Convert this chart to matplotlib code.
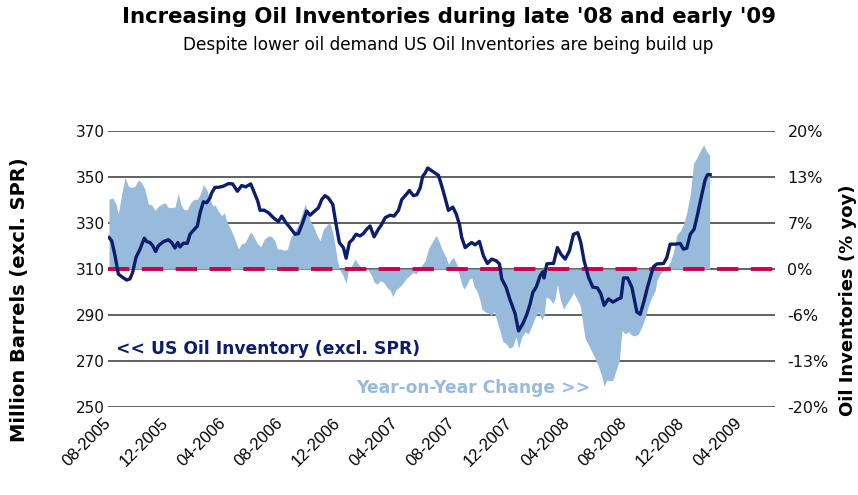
import matplotlib
matplotlib.use("Agg")
import matplotlib.pyplot as plt
from matplotlib import font_manager
from matplotlib.transforms import ScaledTranslation

# ---------------- data (months since Aug-2005) ----------------
inv_months = [0.07, 0.26, 0.49, 0.72, 0.95, 1.30, 1.53, 1.72, 1.95, 2.23, 2.53, 2.70, 2.93, 3.12, 3.32, 3.51,
              3.86, 4.21, 4.44, 4.67, 4.86, 5.02, 5.25, 5.53, 5.72, 5.95, 6.23, 6.42, 6.65, 6.88, 7.11, 7.23,
              7.46, 7.69, 8.04, 8.39, 8.69, 9.02, 9.32, 9.60, 9.95, 10.25, 10.44, 10.60, 10.88, 11.18, 11.53,
              11.88, 12.11, 12.41, 12.69, 13.04, 13.27, 13.57, 13.85, 14.09, 14.32, 14.67, 14.90, 15.13, 15.36,
              15.67, 15.90, 16.13, 16.41, 16.60, 16.83, 17.06, 17.29, 17.57, 17.80, 18.04, 18.27, 18.55, 18.85,
              19.08, 19.32, 19.67, 19.94, 20.25, 20.48, 20.83, 21.01, 21.29, 21.53, 21.76, 21.94, 22.11, 22.29,
              22.57, 22.80, 23.04, 23.27, 23.50, 23.73, 24.04, 24.27, 24.50, 24.66, 24.90, 25.13, 25.36, 25.59,
              25.89, 26.17, 26.45, 26.75, 27.06, 27.29, 27.45, 27.75, 28.03, 28.38, 28.62, 28.92, 29.20, 29.43,
              29.62, 29.85, 30.13, 30.31, 30.40, 30.59, 30.82, 31.06, 31.33, 31.57, 31.87, 32.17, 32.45, 32.75,
              32.96, 33.19, 33.50, 33.80, 34.12, 34.36, 34.59, 34.89, 35.20, 35.52, 35.77, 35.94, 36.22, 36.52,
              36.87, 37.10, 37.38, 37.61, 37.91, 38.03, 38.26, 38.73, 38.96, 39.19, 39.54, 39.89, 40.12, 40.35,
              40.59, 40.86, 41.10, 41.40, 41.63, 41.80, 41.98]
inventory = [323.7, 322.2, 315.8, 307.8, 306.7, 305.2, 305.7, 308.6, 315.0, 318.6, 323.4, 321.9, 321.5, 320.1,
             317.6, 320.1, 321.9, 322.7, 321.5, 319.1, 321.5, 319.6, 321.2, 321.2, 325.1, 326.8, 328.7, 334.5,
             339.2, 338.8, 340.9, 343.1, 345.5, 345.5, 346.0, 347.1, 347.0, 343.8, 346.3, 345.7, 347.0, 342.4,
             339.5, 335.5, 335.6, 334.5, 332.3, 330.6, 333.0, 330.1, 328.0, 325.1, 325.4, 330.1, 335.2, 333.4,
             334.7, 336.6, 340.2, 341.9, 340.9, 338.1, 329.4, 321.5, 319.3, 314.7, 321.5, 322.9, 325.1, 324.4,
             325.4, 327.3, 328.7, 324.0, 327.3, 329.4, 332.3, 333.4, 333.0, 335.5, 340.2, 342.7, 344.1, 341.9,
             342.3, 345.2, 350.3, 351.7, 353.9, 352.7, 351.7, 350.7, 346.0, 340.9, 335.5, 336.9, 334.0, 329.4,
             323.7, 319.3, 320.5, 321.5, 320.5, 322.0, 315.8, 312.4, 314.3, 313.6, 312.2, 305.7, 302.1, 296.6,
             290.6, 283.1, 286.2, 290.3, 294.9, 299.9, 302.1, 307.1, 308.8, 306.1, 312.2, 312.4, 312.4, 319.3,
             316.5, 314.3, 317.9, 325.1, 325.8, 321.5, 313.6, 306.4, 302.1, 301.8, 299.2, 294.2, 297.0, 295.6,
             296.8, 297.5, 306.1, 306.1, 302.1, 291.3, 290.3, 296.3, 302.1, 308.6, 311.0, 312.2, 312.4, 315.0,
             320.8, 320.8, 321.1, 318.6, 319.1, 325.1, 327.3, 333.7, 342.4, 348.8, 351.0, 351.0]

yoy_months = [0.07, 0.33, 0.56, 0.72, 0.95, 1.19, 1.42, 1.65, 1.88, 2.12, 2.35, 2.58, 2.81, 3.05, 3.28, 3.51,
              3.74, 3.97, 4.21, 4.44, 4.67, 4.90, 5.07, 5.30, 5.53, 5.76, 6.00, 6.23, 6.42, 6.65, 6.88, 7.16,
              7.35, 7.46, 7.69, 7.93, 8.09, 8.32, 8.55, 8.79, 9.09, 9.32, 9.55, 9.79, 9.95, 10.18, 10.41, 10.65,
              10.88, 11.18, 11.41, 11.65, 11.81, 12.04, 12.27, 12.51, 12.74, 12.97, 13.20, 13.51, 13.74, 13.90,
              14.09, 14.32, 14.55, 14.78, 15.02, 15.13, 15.30, 15.48, 15.67, 15.83, 15.99, 16.18, 16.36, 16.60,
              16.76, 16.99, 17.22, 17.46, 17.69, 17.92, 18.15, 18.39, 18.55, 18.78, 18.97, 19.20, 19.43, 19.67,
              19.85, 20.08, 20.32, 20.55, 20.78, 21.01, 21.25, 21.48, 21.71, 21.87, 22.11, 22.34, 22.57, 22.80,
              22.92, 23.11, 23.34, 23.57, 23.73, 23.90, 24.08, 24.32, 24.50, 24.66, 24.83, 25.01, 25.20, 25.36,
              25.52, 25.71, 25.94, 26.06, 26.29, 26.52, 26.75, 26.92, 27.10, 27.34, 27.52, 27.75, 27.99, 28.22,
              28.45, 28.62, 28.85, 29.08, 29.31, 29.55, 29.78, 30.01, 30.24, 30.40, 30.54, 30.78, 31.01, 31.17,
              31.33, 31.52, 31.75, 31.99, 32.22, 32.45, 32.68, 32.92, 33.10, 33.26, 33.50, 33.73, 33.96, 34.19,
              34.43, 34.59, 34.78, 35.01, 35.20, 35.43, 35.66, 35.82, 36.05, 36.29, 36.52, 36.75, 36.98, 37.22,
              37.45, 37.68, 37.91, 38.15, 38.26, 38.49, 38.73, 38.96, 39.19, 39.42, 39.66, 39.89, 40.12, 40.35,
              40.59, 40.82, 41.05, 41.28, 41.52, 41.75, 41.94]
yoy_pct = [10.1, 10.3, 9.4, 8.0, 10.8, 13.3, 12.0, 11.8, 12.0, 12.9, 12.5, 11.5, 9.4, 9.3, 8.5, 9.1,
           9.4, 9.6, 8.9, 8.9, 9.0, 11.0, 9.4, 8.6, 8.6, 9.6, 10.1, 10.1, 10.8, 12.2, 11.5, 9.8,
           9.1, 9.3, 8.4, 7.7, 8.2, 6.7, 5.8, 4.6, 2.9, 3.7, 3.8, 4.8, 5.4, 4.6, 3.7, 3.2,
           4.3, 4.8, 4.7, 4.0, 2.9, 2.9, 2.7, 2.9, 4.6, 5.3, 6.2, 7.9, 9.4, 8.5,
           7.0, 6.2, 5.0, 4.1, 5.8, 6.0, 6.5, 6.7, 5.3, 3.4, 1.2, -0.2, -0.8, -2.1,
           -0.2, 0.5, 1.4, 0.7, 0.2, 0.1, -0.2, -1.0, -1.9, -2.2, -1.7, -1.9, -2.6, -3.1,
           -4.0, -3.0, -2.6, -2.1, -1.4, -1.0, -0.5, -0.7, 0.0, 0.5, 1.2, 2.9, 3.8, 4.6,
           4.8, 3.8, 2.6, 1.7, 0.7, 1.3, 1.7, 0.7, -1.0, -2.2, -2.9, -2.3, -1.4, -1.3,
           -2.6, -3.1, -4.6, -5.8, -6.2, -6.4, -6.7, -6.2, -7.4, -9.1, -10.5, -10.8, -11.5, -11.2,
           -9.8, -11.5, -9.8, -9.1, -9.4, -8.2, -7.0, -6.2, -7.4, -6.7, -4.1, -4.3, -5.0, -4.3,
           -2.2, -4.3, -5.8, -5.0, -4.3, -3.4, -4.3, -5.3, -7.9, -10.1, -11.0, -12.0, -13.0, -14.1,
           -15.6, -17.0, -16.1, -16.2, -16.1, -14.6, -13.2, -8.9, -9.4, -9.1, -9.6, -9.7, -9.4, -8.4,
           -7.0, -5.3, -4.1, -3.1, -1.7, -0.7, -0.2, 0.2, 1.0, 2.4, 5.0, 5.5, 6.5, 8.2,
           10.8, 15.3, 16.1, 17.1, 18.0, 17.0, 16.5]

x_tick_months = [0, 4, 8, 12, 16, 20, 24, 28, 32, 36, 40, 44]
x_tick_labels = ["08-2005", "12-2005", "04-2006", "08-2006", "12-2006", "04-2007",
                 "08-2007", "12-2007", "04-2008", "08-2008", "12-2008", "04-2009"]
left_ticks = [250, 270, 290, 310, 330, 350, 370]
right_ticks = [-20.0, -13.333, -6.667, 0.0, 6.667, 13.333, 20.0]
right_labels = ["-20%", "-13%", "-6%", "0%", "7%", "13%", "20%"]

title = "Increasing Oil Inventories during late '08 and early '09"
subtitle = "Despite lower oil demand US Oil Inventories are being build up"

# ---------------- styling ----------------
NAVY = "#0b1d6b"
AREA = "#99bbdb"
RED = "#c8004e"
GRID = "#555555"

names = {f.name for f in font_manager.fontManager.ttflist}
narrow = "Liberation Sans Narrow" if "Liberation Sans Narrow" in names else "Liberation Sans"

fig = plt.figure(figsize=(8.58, 4.95), dpi=100)
ax2 = fig.add_axes([108 / 858, 1 - 407 / 495, (775 - 108) / 858, (407 - 131) / 495])
ax = ax2.twinx()
ax.set_zorder(ax2.get_zorder() + 1)
ax.patch.set_visible(False)

# area on secondary (right) axis
ax2.fill_between(yoy_months, 0, yoy_pct, color=AREA, linewidth=0, zorder=2)
ax2.set_ylim(-20, 20)
ax2.set_xlim(0, 46.5)
ax2.set_yticks(right_ticks)
ax2.set_axisbelow(True)
ax2.yaxis.grid(True, color=GRID, linewidth=1.3, zorder=0)

# line on primary (left) axis
ax.axhline(310, color=RED, linewidth=2.8, dashes=(5.5, 3.2), zorder=2)
ax.plot(inv_months, inventory, color=NAVY, linewidth=2.4, zorder=3, solid_joinstyle="round")
ax.set_ylim(250, 370)
ax.set_xlim(0, 46.5)

ax2.yaxis.tick_right()
ax.yaxis.tick_left()
ax.set_yticks(left_ticks)
ax.set_yticklabels([str(v) for v in left_ticks], fontsize=11, color="#111111")
ax2.set_yticklabels(right_labels, fontsize=11.5, color="#111111")
ax.tick_params(axis="y", length=0, pad=2)
ax2.tick_params(axis="y", length=0, pad=9)

ax2.set_xticks(x_tick_months)
ax2.set_xticklabels(x_tick_labels, rotation=45, ha="right", va="top",
                    rotation_mode="anchor", fontsize=12, family=narrow)
ax2.tick_params(axis="x", length=0, pad=6)
off = ScaledTranslation(-0.05, 0, fig.dpi_scale_trans)
for lbl in ax2.get_xticklabels():
    lbl.set_transform(lbl.get_transform() + off)
ax.tick_params(axis="x", length=0, labelbottom=False)

for a in (ax, ax2):
    for s in a.spines.values():
        s.set_visible(False)

# annotations
ax.text(0.56, 275.2, "<< US Oil Inventory (excl. SPR)", color=NAVY, fontsize=12.3,
        fontweight="bold", ha="left", va="center")
ax.text(17.3, 258.3, "Year-on-Year Change >>", color=AREA, fontsize=12.3,
        fontweight="bold", ha="left", va="center")

# titles and axis titles
fig.text(449 / 858, 1 - 17 / 495, title, ha="center", va="center", fontsize=15.3, fontweight="bold")
fig.text(448 / 858, 1 - 45 / 495, subtitle, ha="center", va="center", fontsize=12.2)
fig.text(20 / 858, 1 - 300 / 495, "Million Barrels (excl. SPR)", rotation=90, ha="center",
         va="center", fontsize=14, fontweight="bold")
fig.text(848 / 858, 1 - 300 / 495, "Oil Inventories (% yoy)", rotation=90, ha="center",
         va="center", fontsize=13, fontweight="bold")

fig.savefig("out.png", dpi=100)
